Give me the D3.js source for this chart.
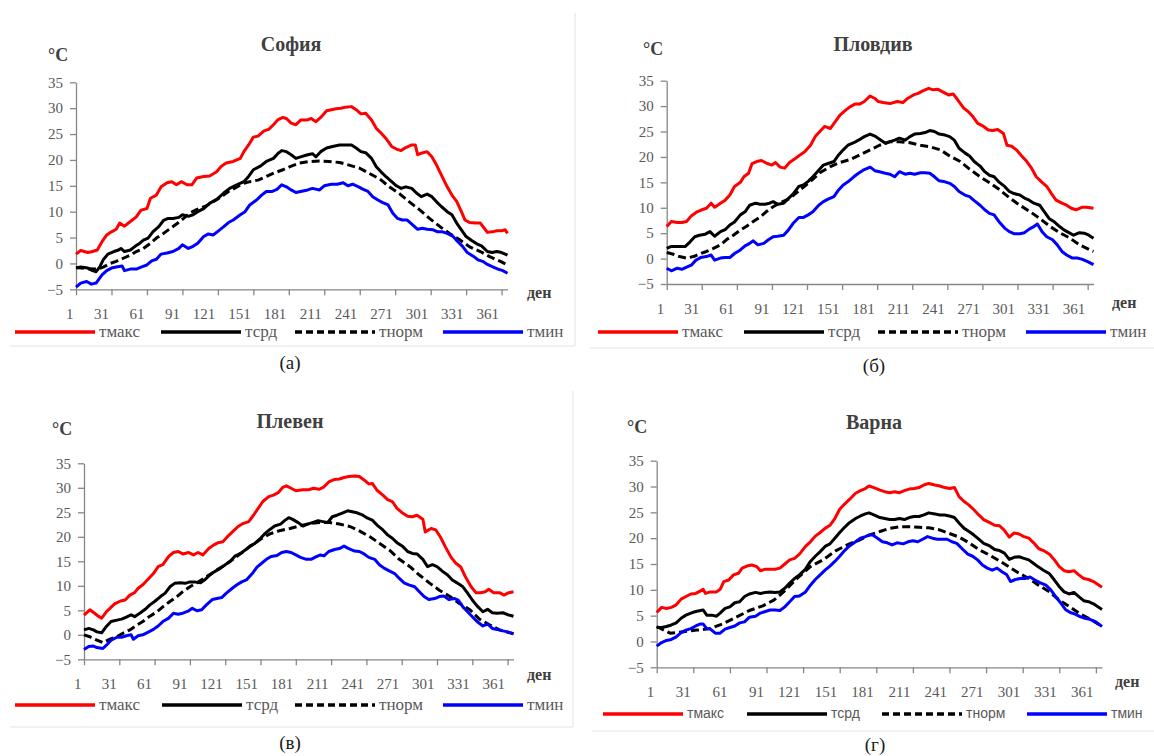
<!DOCTYPE html>
<html>
<head>
<meta charset="utf-8">
<script src="https://cdn.jsdelivr.net/npm/d3@7"></script>
<style>
  html, body { margin: 0; padding: 0; background: #ffffff; }
  svg { display: block; }
</style>
</head>
<body>
<svg id="chart" width="1154" height="756"></svg>
<script>
// Stations, captions and series names
const stations = ["София", "Пловдив", "Плевен", "Варна"];
const captions = ["(а)", "(б)", "(в)", "(г)"];
const seriesNames = ["тмакс", "тсрд", "тнорм", "тмин"];
const xTickDays = [1, 31, 61, 91, 121, 151, 181, 211, 241, 271, 301, 331, 361];
const yTickTemps = [-5, 0, 5, 10, 15, 20, 25, 30, 35];
const dayDomain = [1, 366];
const tempDomain = [-5, 35];

// Daily temperatures, °C, as [day of year, value]
const sofiaMax = [[1,1.8],[5,2.5],[11,2.1],[15,2.3],[19,2.6],[23,4.2],[27,5.5],[31,6.1],[35,6.6],[38,7.8],[42,7.2],[47,8.1],[52,9.0],[56,10.3],[61,10.6],[64,12.6],[69,13.2],[73,14.8],[78,15.6],[82,15.8],[86,15.2],[90,15.8],[95,15.2],[99,15.2],[103,16.5],[109,16.8],[114,16.9],[120,17.7],[124,18.8],[128,19.4],[134,19.7],[140,20.3],[143,21.6],[147,22.9],[151,24.4],[155,24.6],[160,25.6],[164,25.9],[168,26.8],[172,27.8],[176,28.2],[179,28.0],[183,27.1],[187,26.8],[191,27.7],[196,27.7],[200,28.0],[204,27.4],[208,28.2],[213,29.5],[217,29.7],[221,29.9],[225,30.0],[229,30.2],[234,30.3],[238,29.7],[242,28.9],[246,29.0],[251,27.7],[255,26.1],[259,25.2],[263,24.2],[268,22.6],[272,22.1],[276,21.8],[280,22.4],[285,22.9],[288,22.9],[290,21.0],[293,21.3],[298,21.6],[302,20.6],[306,19.0],[310,17.1],[315,14.8],[319,13.2],[323,12.0],[327,10.0],[330,8.4],[334,7.9],[339,7.8],[343,7.8],[346,6.9],[349,6.0],[353,6.1],[357,6.3],[361,6.3],[364,6.5],[366,5.8]];
const sofiaAvg = [[1,-0.9],[5,-0.7],[11,-0.9],[15,-1.4],[18,-1.6],[21,-0.7],[24,0.7],[28,1.8],[33,2.3],[37,2.6],[39,2.9],[42,2.3],[47,2.6],[51,3.3],[55,3.9],[58,4.5],[62,4.9],[66,6.1],[71,7.1],[75,8.3],[79,8.7],[83,8.7],[88,8.9],[91,9.4],[96,9.1],[100,9.4],[104,10.0],[109,10.6],[114,11.6],[120,12.4],[126,13.6],[131,14.5],[137,15.2],[143,15.8],[147,16.8],[151,18.1],[157,18.8],[162,19.7],[168,20.3],[172,21.3],[175,21.8],[179,21.6],[183,21.0],[187,20.3],[191,20.6],[197,21.0],[201,21.2],[204,20.6],[208,21.6],[213,22.3],[218,22.6],[224,22.9],[229,22.9],[234,22.9],[238,22.3],[242,21.6],[246,21.4],[251,20.3],[255,18.7],[259,17.7],[263,16.8],[268,15.8],[272,15.0],[276,14.5],[280,14.8],[285,14.5],[289,13.6],[293,12.9],[298,13.4],[302,12.9],[306,11.9],[310,11.0],[315,10.0],[319,9.4],[323,7.8],[327,6.5],[331,5.2],[336,4.4],[340,3.8],[344,3.4],[349,2.3],[353,2.1],[357,2.3],[361,2.1],[366,1.6]];
const sofiaNorm = [[1,-0.8],[10,-1.0],[19,-1.1],[24,-0.7],[30,0.0],[35,0.4],[41,1.0],[47,1.6],[52,2.3],[58,2.9],[64,3.9],[69,4.9],[75,5.8],[81,6.8],[86,7.6],[92,8.7],[97,9.7],[103,10.4],[110,11.0],[120,12.3],[130,13.9],[143,15.5],[148,15.8],[155,16.1],[162,16.8],[170,17.6],[176,18.1],[182,18.7],[190,19.4],[199,19.7],[207,19.8],[215,19.7],[224,19.5],[232,19.0],[241,18.4],[249,17.4],[258,16.3],[266,14.8],[275,13.4],[283,11.9],[292,10.3],[300,8.7],[309,7.1],[317,5.8],[326,4.5],[334,3.2],[343,2.3],[351,1.3],[360,0.4],[366,-0.3]];
const sofiaMin = [[1,-4.6],[5,-3.8],[10,-3.5],[14,-4.0],[18,-3.8],[23,-2.2],[27,-1.4],[31,-0.9],[35,-0.7],[40,-0.5],[42,-1.4],[47,-1.1],[52,-1.1],[56,-0.7],[61,-0.3],[65,0.5],[69,0.8],[73,1.8],[78,2.0],[83,2.3],[88,2.9],[91,3.6],[96,2.9],[100,3.3],[104,3.9],[109,5.2],[113,5.7],[117,5.5],[121,6.2],[126,7.1],[130,7.9],[134,8.4],[140,9.4],[144,10.0],[148,11.3],[154,12.3],[158,13.2],[162,13.9],[167,13.9],[171,14.3],[175,15.2],[179,14.8],[183,14.2],[187,13.7],[191,13.9],[197,14.2],[201,14.5],[207,14.2],[211,15.0],[217,15.3],[222,15.3],[227,15.6],[231,15.0],[235,15.3],[240,14.8],[244,14.3],[248,13.9],[252,12.9],[256,12.3],[260,11.8],[265,11.3],[269,9.7],[273,8.7],[277,8.4],[281,8.4],[286,7.4],[290,6.6],[294,6.8],[298,6.6],[303,6.5],[307,6.1],[311,6.1],[315,5.8],[320,5.2],[324,4.2],[328,3.3],[332,2.1],[337,1.4],[341,0.7],[345,0.4],[349,-0.2],[354,-0.7],[358,-1.1],[362,-1.4],[366,-1.9]];

const plovdivMax = [[1,6.3],[5,7.3],[10,7.1],[14,7.1],[18,7.3],[22,8.4],[27,9.2],[31,9.6],[35,9.9],[39,10.9],[42,10.1],[47,10.9],[51,11.5],[55,12.5],[59,14.2],[64,15.0],[67,16.1],[71,16.8],[74,18.7],[78,19.1],[82,19.3],[87,18.7],[91,18.4],[94,18.9],[98,18.0],[102,17.8],[106,18.9],[111,19.7],[115,20.4],[119,21.0],[124,22.3],[128,24.0],[132,25.0],[136,26.0],[141,25.6],[145,26.9],[149,28.2],[154,29.2],[158,29.9],[162,30.4],[166,30.4],[170,30.9],[175,32.0],[179,31.5],[182,30.9],[186,30.7],[192,30.5],[198,30.9],[203,30.7],[207,31.5],[212,32.2],[216,32.5],[220,33.0],[225,33.5],[229,33.2],[233,33.3],[237,32.8],[242,32.2],[246,32.4],[250,31.2],[255,29.6],[259,28.9],[263,27.9],[267,26.6],[272,26.0],[276,25.3],[280,25.2],[284,25.4],[289,24.6],[292,22.3],[296,22.1],[300,21.4],[305,20.1],[309,19.1],[313,17.8],[317,16.1],[322,15.0],[326,14.2],[330,12.8],[334,11.5],[339,10.9],[343,10.5],[347,9.9],[351,9.6],[356,10.1],[360,10.1],[366,9.9]];
const plovdivAvg = [[1,2.0],[5,2.4],[11,2.4],[17,2.4],[21,3.3],[25,4.3],[29,4.6],[34,4.8],[38,5.3],[42,4.4],[47,5.3],[51,5.7],[55,6.6],[59,7.2],[64,8.6],[68,9.2],[72,10.5],[77,10.9],[81,10.7],[85,10.7],[89,10.9],[92,11.2],[96,10.7],[101,10.9],[105,11.8],[109,12.7],[114,14.2],[118,14.5],[122,15.2],[126,16.1],[131,17.4],[135,18.4],[139,18.7],[144,19.1],[148,20.4],[152,21.4],[156,22.3],[161,22.8],[165,23.3],[170,24.0],[175,24.5],[179,24.1],[183,23.5],[188,22.7],[192,23.0],[196,23.3],[200,23.7],[205,23.3],[209,24.0],[213,24.5],[218,24.6],[222,24.8],[226,25.2],[230,25.0],[234,24.5],[239,24.3],[243,24.0],[247,23.3],[251,21.7],[256,20.8],[260,20.2],[264,19.1],[269,18.2],[273,17.1],[277,16.4],[281,16.1],[285,15.1],[290,14.2],[294,13.2],[298,12.8],[303,12.5],[307,11.9],[311,11.5],[315,10.9],[320,10.5],[324,9.2],[328,7.9],[332,7.3],[337,6.3],[341,5.6],[345,5.1],[349,4.6],[354,5.1],[358,5.0],[362,4.6],[366,4.0]];
const plovdivNorm = [[1,1.2],[6,0.9],[12,0.4],[18,0.1],[24,0.4],[29,0.9],[35,1.4],[41,2.0],[47,2.7],[52,3.7],[58,4.6],[64,5.6],[69,6.3],[75,7.3],[81,8.2],[86,9.2],[92,10.2],[98,11.0],[106,11.8],[115,13.5],[124,15.2],[132,16.9],[141,18.1],[149,18.9],[158,19.5],[166,20.4],[175,21.4],[183,22.3],[192,23.0],[200,23.0],[209,22.8],[218,22.3],[226,22.0],[235,21.4],[243,20.2],[252,19.1],[260,17.6],[269,16.1],[278,14.8],[286,13.5],[295,11.8],[303,10.5],[312,9.2],[320,7.9],[329,6.3],[337,5.1],[346,4.0],[354,2.7],[363,1.7],[366,1.4]];
const plovdivMin = [[1,-1.9],[5,-2.4],[10,-1.9],[14,-2.1],[18,-1.7],[22,-1.3],[26,-0.3],[30,0.2],[35,0.4],[39,0.7],[42,-0.3],[47,0.1],[51,0.2],[55,0.2],[59,1.0],[64,1.7],[68,2.5],[72,3.0],[75,3.5],[79,2.7],[84,3.0],[88,3.7],[92,4.3],[96,4.4],[101,4.6],[105,5.6],[109,6.9],[114,8.1],[118,8.1],[122,8.6],[126,9.2],[131,10.5],[135,11.2],[139,11.7],[144,12.2],[148,13.5],[152,14.5],[156,15.1],[161,16.1],[165,16.8],[169,17.4],[175,18.0],[179,17.3],[183,17.1],[188,16.8],[192,16.6],[196,16.1],[200,17.1],[205,16.6],[209,16.8],[213,16.6],[218,16.9],[222,16.9],[226,16.8],[230,16.1],[234,15.3],[239,15.1],[243,14.8],[247,14.2],[251,13.2],[256,12.5],[260,12.2],[264,11.4],[269,10.5],[273,9.6],[277,8.9],[281,8.6],[285,7.3],[290,6.0],[294,5.3],[298,4.9],[303,4.9],[307,5.1],[311,5.8],[315,6.3],[318,6.8],[322,5.3],[326,4.3],[331,3.7],[335,2.7],[339,1.4],[343,0.7],[348,0.1],[352,0.1],[356,-0.1],[361,-0.6],[366,-1.2]];

const plevenMax = [[1,4.0],[6,5.1],[10,4.4],[13,3.8],[16,3.4],[20,4.7],[23,5.4],[27,6.3],[32,6.9],[36,7.1],[40,8.1],[44,8.6],[47,9.5],[51,10.2],[56,11.5],[60,12.5],[64,13.9],[68,14.3],[73,16.0],[77,16.8],[81,17.0],[85,16.5],[90,16.8],[94,16.3],[98,16.8],[102,16.3],[107,17.6],[111,18.3],[115,18.8],[119,19.0],[124,20.3],[128,21.2],[132,22.1],[136,22.7],[141,23.1],[145,24.4],[149,25.8],[153,27.2],[158,28.2],[162,28.5],[166,29.0],[170,30.1],[173,30.4],[177,29.9],[181,29.4],[187,29.6],[192,29.6],[196,29.9],[201,29.7],[205,30.2],[209,31.2],[214,31.7],[218,31.8],[222,32.1],[226,32.3],[231,32.4],[235,32.3],[239,31.6],[243,30.8],[246,30.9],[250,29.5],[255,28.5],[259,27.6],[263,27.2],[267,25.8],[272,24.8],[276,24.2],[280,24.1],[284,24.4],[289,23.6],[291,21.0],[296,21.7],[300,21.4],[304,19.9],[308,18.0],[313,15.8],[317,14.6],[321,13.9],[325,11.9],[330,9.8],[334,8.6],[338,8.6],[342,8.8],[345,9.3],[349,8.6],[354,8.6],[358,8.1],[362,8.6],[366,8.8]];
const plevenAvg = [[1,1.0],[5,1.3],[9,1.0],[12,0.6],[16,0.4],[20,1.7],[24,2.7],[29,3.0],[33,3.2],[37,3.6],[41,4.1],[44,3.7],[49,4.5],[53,5.2],[57,6.1],[61,6.8],[66,7.8],[70,8.5],[74,9.8],[78,10.5],[83,10.6],[87,10.5],[91,10.8],[95,10.8],[100,10.6],[104,11.3],[108,12.2],[112,12.9],[117,13.6],[121,14.3],[125,14.9],[129,16.0],[134,16.6],[138,17.3],[142,18.1],[146,18.6],[151,19.7],[155,20.7],[159,21.5],[163,22.2],[168,22.6],[172,23.4],[175,23.9],[178,23.6],[183,22.9],[187,22.2],[191,22.6],[195,22.9],[200,23.3],[204,23.1],[208,22.9],[212,24.1],[216,24.4],[221,24.9],[225,25.3],[229,25.1],[233,24.9],[238,24.4],[242,23.8],[246,23.4],[250,22.4],[255,21.4],[259,20.4],[263,19.7],[267,18.8],[272,18.0],[276,17.0],[280,16.6],[284,16.5],[289,15.4],[293,13.9],[297,14.3],[301,13.9],[306,12.9],[310,12.2],[314,11.2],[318,10.6],[323,9.8],[327,8.5],[331,7.1],[335,5.9],[340,4.7],[344,5.2],[348,4.5],[352,4.4],[357,4.5],[361,4.1],[366,3.8]];
const plevenNorm = [[1,0.0],[6,-0.4],[12,-1.1],[17,-1.6],[23,-0.9],[29,-0.4],[34,0.3],[40,1.0],[46,2.0],[51,2.7],[57,3.8],[63,4.7],[68,5.7],[74,6.8],[80,7.8],[85,8.8],[91,9.8],[97,10.6],[108,12.3],[119,14.0],[131,16.0],[142,18.0],[151,19.5],[159,20.6],[168,21.3],[176,21.7],[184,22.2],[193,22.7],[201,22.9],[210,22.9],[218,22.6],[227,22.1],[235,21.2],[244,20.0],[252,18.7],[261,17.2],[269,15.4],[278,13.9],[286,12.2],[295,10.5],[303,9.1],[312,7.8],[320,6.4],[329,5.1],[337,3.2],[346,2.0],[354,1.0],[366,0.2]];
const plevenMin = [[1,-3.0],[5,-2.4],[9,-2.3],[12,-2.6],[17,-2.8],[21,-1.9],[24,-1.1],[29,-0.5],[33,-0.5],[37,-0.2],[41,0.0],[43,-0.9],[47,-0.2],[51,0.0],[56,0.6],[60,1.1],[64,1.8],[68,2.7],[73,3.4],[77,4.4],[81,4.2],[85,4.4],[90,4.9],[93,5.4],[97,4.9],[101,5.1],[105,6.1],[110,7.2],[114,7.4],[118,7.6],[122,8.5],[127,9.5],[131,10.2],[135,10.8],[139,11.2],[144,12.5],[148,13.8],[152,14.6],[156,15.4],[160,16.0],[165,16.2],[169,16.8],[173,17.0],[177,16.8],[181,16.3],[185,15.8],[190,15.4],[194,15.4],[198,15.9],[202,16.3],[205,16.1],[209,17.0],[214,17.4],[218,17.6],[222,18.1],[226,17.6],[231,17.1],[235,17.0],[239,16.5],[243,15.8],[248,15.4],[252,14.3],[256,13.6],[260,13.1],[265,12.5],[269,11.5],[273,10.6],[277,10.2],[282,9.8],[286,8.8],[290,7.8],[294,7.2],[299,7.4],[303,7.8],[307,7.9],[311,7.2],[316,7.4],[319,7.1],[323,5.7],[327,4.7],[331,3.7],[335,2.7],[340,1.8],[344,2.2],[348,1.3],[352,1.1],[357,0.8],[361,0.6],[366,0.2]];

const varnaMax = [[1,5.6],[5,6.6],[9,6.4],[13,6.6],[17,7.1],[21,8.2],[25,8.7],[29,9.2],[33,9.3],[37,9.8],[39,10.1],[41,9.3],[45,9.6],[50,9.6],[53,10.1],[56,11.6],[60,11.9],[64,12.9],[68,13.2],[71,14.2],[75,14.6],[79,14.8],[83,14.5],[86,13.7],[90,14.0],[94,14.0],[98,14.0],[102,14.2],[106,15.0],[110,15.8],[114,16.1],[118,16.9],[123,18.4],[127,19.3],[131,20.4],[135,21.1],[139,21.9],[143,22.5],[147,23.8],[151,25.6],[155,26.6],[159,27.5],[164,28.7],[168,29.2],[172,29.6],[175,30.1],[179,29.8],[184,29.3],[188,29.0],[192,28.8],[196,29.0],[200,28.8],[204,29.2],[208,29.5],[212,29.6],[216,29.8],[220,30.3],[224,30.6],[229,30.3],[233,30.1],[237,29.8],[241,29.6],[245,29.8],[249,28.0],[253,27.1],[257,26.4],[261,25.5],[265,24.5],[269,23.6],[274,23.0],[278,22.5],[282,22.4],[286,21.5],[290,20.2],[294,21.0],[298,20.8],[302,20.3],[306,20.0],[310,19.1],[314,18.0],[318,17.6],[323,16.9],[327,15.8],[331,14.5],[335,13.7],[339,13.5],[343,13.7],[347,12.9],[351,12.2],[355,12.0],[359,11.6],[366,10.5]];
const varnaAvg = [[1,2.7],[5,2.7],[9,2.9],[13,3.2],[17,3.6],[21,4.5],[25,5.1],[29,5.5],[33,5.8],[37,6.0],[39,6.1],[42,5.1],[46,5.1],[50,4.9],[53,5.5],[57,6.4],[61,6.7],[65,7.5],[69,7.7],[73,8.7],[77,9.2],[82,9.5],[86,9.3],[90,9.5],[94,9.6],[98,9.5],[102,9.6],[106,10.3],[110,11.3],[114,12.2],[118,12.9],[123,14.0],[127,15.5],[131,16.5],[135,17.4],[139,18.4],[143,18.9],[147,20.0],[151,21.1],[155,22.1],[159,23.0],[164,23.8],[168,24.3],[172,24.7],[175,24.9],[179,24.5],[184,24.0],[188,23.8],[192,23.6],[196,23.6],[200,23.8],[204,23.6],[208,24.0],[212,24.2],[216,24.2],[220,24.5],[224,24.9],[229,24.7],[233,24.5],[237,24.5],[241,24.3],[245,24.0],[249,22.9],[253,21.9],[257,21.3],[261,20.6],[265,19.8],[269,19.0],[274,18.5],[278,17.8],[282,17.6],[286,17.1],[290,15.9],[294,16.3],[298,16.4],[302,16.1],[306,15.8],[310,15.1],[314,14.4],[318,13.8],[323,13.1],[327,11.9],[331,10.6],[335,9.6],[339,9.2],[343,9.5],[347,8.7],[351,7.9],[355,7.7],[359,7.3],[366,6.2]];
const varnaNorm = [[1,2.9],[12,1.6],[23,1.9],[34,2.2],[45,2.5],[56,3.5],[67,4.8],[77,6.0],[88,6.9],[97,8.0],[105,9.6],[116,12.2],[127,14.5],[138,15.9],[148,17.6],[159,18.9],[167,19.6],[175,20.6],[184,21.3],[192,21.9],[200,22.2],[208,22.2],[216,22.1],[224,22.0],[233,21.6],[241,20.9],[249,20.2],[257,19.1],[265,17.8],[274,16.7],[282,15.6],[290,14.4],[298,13.2],[306,12.2],[314,10.9],[323,9.6],[331,8.0],[339,6.8],[347,5.5],[355,4.5],[366,2.9]];
const varnaMin = [[1,-0.9],[5,-0.2],[9,0.2],[13,0.4],[17,0.9],[21,1.7],[25,2.2],[29,2.5],[33,3.0],[37,3.4],[39,3.4],[42,2.5],[45,2.4],[49,1.6],[53,1.6],[57,2.4],[61,2.7],[65,3.0],[69,3.6],[73,3.8],[77,4.7],[82,4.9],[86,5.5],[90,5.8],[94,6.1],[98,6.1],[102,6.0],[106,6.7],[110,7.7],[114,8.7],[118,8.8],[123,9.6],[127,10.9],[131,12.0],[135,12.9],[139,13.8],[143,14.6],[147,15.5],[151,16.5],[155,17.6],[159,18.5],[164,19.3],[168,20.0],[172,20.3],[175,20.6],[178,20.6],[182,20.0],[186,19.3],[190,19.1],[194,18.7],[198,19.1],[203,18.9],[207,19.3],[211,19.5],[215,19.3],[219,19.8],[223,20.3],[227,20.0],[231,19.8],[235,19.8],[239,19.8],[243,19.3],[247,19.0],[252,17.8],[256,16.9],[260,16.5],[264,15.8],[268,14.8],[272,14.2],[276,13.8],[280,14.2],[284,13.5],[288,12.9],[291,11.6],[295,12.0],[299,12.2],[303,12.2],[307,12.5],[311,11.9],[315,11.4],[320,10.9],[324,10.0],[328,8.7],[332,7.5],[336,6.2],[340,5.6],[344,5.3],[348,4.8],[352,4.5],[356,4.3],[361,3.8],[366,2.9]];

// Series bundled per station, in drawing order (max, mean, norm, min)
const stationSeries = [
  [sofiaMax, sofiaAvg, sofiaNorm, sofiaMin],
  [plovdivMax, plovdivAvg, plovdivNorm, plovdivMin],
  [plevenMax, plevenAvg, plevenNorm, plevenMin],
  [varnaMax, varnaAvg, varnaNorm, varnaMin]
];

// Visual styling of the four series
const seriesStyle = [
  { color: "#ff0000", dash: null },
  { color: "#000000", dash: null },
  { color: "#000000", dash: "8,4" },
  { color: "#0000ff", dash: null }
];

// Panel geometry
const panels = [
  { x0: 76,    x1: 507.5,  yTop: 82.3,  yBot: 289.3, title: [291, 51],  unit: [48, 61],   den: [527, 298],  legY: 332, legX: [15, 161, 295, 443],  sans: false, cap: [290, 369],
    frame: [[575, 13, 575, 346], [10, 346, 575, 346]] },
  { x0: 666.7, x1: 1093.5, yTop: 80.7,  yBot: 284,   title: [873, 51],  unit: [643, 55],  den: [1112, 308], legY: 332, legX: [598, 744, 878, 1026], sans: false, cap: [874, 372],
    frame: [[590, 348, 1154, 348]] },
  { x0: 84,    x1: 513.5,  yTop: 463.3, yBot: 659.3, title: [290, 428], unit: [52, 435],  den: [527, 680],  legY: 705, legX: [15, 162, 295, 443],  sans: false, cap: [290, 749],
    frame: [[573, 391, 573, 727], [10, 727, 573, 727]] },
  { x0: 656.7, x1: 1102,   yTop: 460.7, yBot: 667.3, title: [874, 429], unit: [627, 433], den: [1115, 687], legY: 714, legX: [603, 747, 882, 1027], sans: true,  cap: [875, 751],
    frame: [[592, 731, 1154, 731]] }
];

const SERIF = "'Liberation Serif', 'Times New Roman', serif";
const SANS = "'Liberation Sans', Arial, sans-serif";
const TEXT_COLOR = "#595959";
const svg = d3.select("#chart");

panels.forEach((p, i) => {
  const g = svg.append("g");

  // light frame around the chart area
  p.frame.forEach(f => {
    g.append("line").attr("x1", f[0]).attr("y1", f[1]).attr("x2", f[2]).attr("y2", f[3])
      .attr("stroke", "#dde4ec").attr("stroke-width", 1);
  });

  const x = d3.scaleLinear().domain(dayDomain).range([p.x0, p.x1]);
  const y = d3.scaleLinear().domain(tempDomain).range([p.yBot, p.yTop]);

  // y axis
  const yAxis = g.append("g").attr("transform", `translate(${p.x0},0)`)
    .call(d3.axisLeft(y).tickValues(yTickTemps).tickSize(6).tickSizeOuter(0).tickPadding(7));
  // x axis
  const xAxis = g.append("g").attr("transform", `translate(0,${p.yBot})`)
    .call(d3.axisBottom(x).tickValues(xTickDays).tickSize(6).tickSizeOuter(0).tickPadding(13));

  [yAxis, xAxis].forEach(ax => {
    ax.select(".domain").attr("stroke", "#868686").attr("stroke-width", 1.3);
    ax.selectAll(".tick line").attr("stroke", "#868686").attr("stroke-width", 1.3);
    ax.selectAll(".tick text").attr("fill", TEXT_COLOR)
      .style("font-family", SERIF).style("font-size", "15px");
  });
  xAxis.selectAll(".tick text").attr("text-anchor", "end").attr("dx", "-3");

  // series lines
  const line = d3.line().x(d => x(d[0])).y(d => y(d[1]));
  stationSeries[i].forEach((data, k) => {
    const s = seriesStyle[k];
    g.append("path").datum(data)
      .attr("d", line)
      .attr("fill", "none")
      .attr("stroke", s.color)
      .attr("stroke-width", 3)
      .attr("stroke-linejoin", "round")
      .attr("stroke-dasharray", s.dash);
  });

  // title
  g.append("text").attr("x", p.title[0]).attr("y", p.title[1])
    .attr("text-anchor", "middle").attr("fill", "#404040")
    .style("font-family", SERIF).style("font-weight", "bold").style("font-size", "20px")
    .text(stations[i]);

  // unit label
  g.append("text").attr("x", p.unit[0]).attr("y", p.unit[1])
    .attr("fill", "#404040")
    .style("font-family", SERIF).style("font-weight", "bold").style("font-size", "18px")
    .text("°C");

  // day-axis label
  g.append("text").attr("x", p.den[0]).attr("y", p.den[1])
    .attr("fill", "#404040")
    .style("font-family", SERIF).style("font-weight", "bold").style("font-size", "16px")
    .text("ден");

  // legend
  seriesNames.forEach((name, k) => {
    const lx = p.legX[k];
    const s = seriesStyle[k];
    g.append("line").attr("x1", lx).attr("x2", lx + 80)
      .attr("y1", p.legY).attr("y2", p.legY)
      .attr("stroke", s.color).attr("stroke-width", 3.5)
      .attr("stroke-dasharray", s.dash ? "7,4" : null);
    g.append("text").attr("x", lx + 84).attr("y", p.legY)
      .attr("dy", "0.32em").attr("fill", TEXT_COLOR)
      .style("font-family", p.sans ? SANS : SERIF)
      .style("font-size", p.sans ? "14px" : "17px")
      .text(name);
  });

  // panel caption
  g.append("text").attr("x", p.cap[0]).attr("y", p.cap[1])
    .attr("text-anchor", "middle").attr("fill", "#1a1a1a")
    .style("font-family", SERIF).style("font-size", "19px")
    .text(captions[i]);
});
</script>
</body>
</html>
